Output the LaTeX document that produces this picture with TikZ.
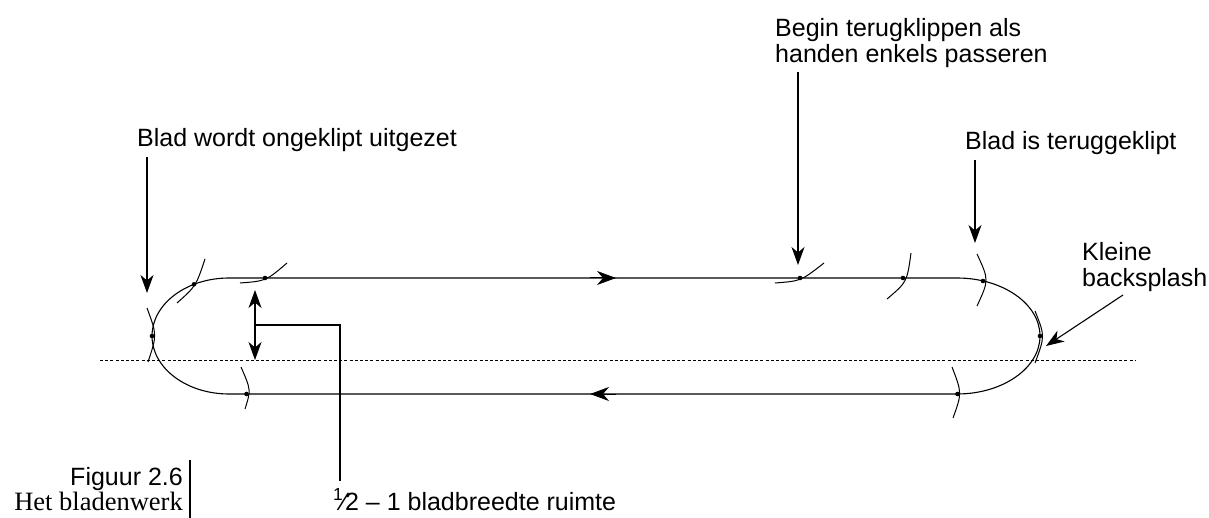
\documentclass[tikz,border=0pt]{standalone}
\usepackage{fontspec}
\setmainfont{Liberation Sans}
\newfontfamily\capserif{Liberation Serif}
\usetikzlibrary{arrows.meta,calc}
\begin{document}
\begin{tikzpicture}[x=1pt,y=-1pt,
  lbl/.style={inner sep=0pt, font=\fontsize{25}{26}\selectfont},
  arr/.style={line width=1.1pt, -{Stealth[length=18pt,width=13pt,inset=5.5pt]}},
  dbl/.style={line width=1.1pt, {Stealth[length=18pt,width=13pt,inset=5.5pt]}-{Stealth[length=18pt,width=13pt,inset=5.5pt]}},
  tip/.style={line width=1pt, -{Stealth[length=19pt,width=14pt,inset=6pt]}},
  track/.style={line width=1.1pt},
  blademark/.style={line width=1pt},
  ldr/.style={line width=1.1pt},
  bladedot/.style={fill, radius=2.3pt}
]
\useasboundingbox (0,0) rectangle (1209,518);

% dotted reference line
\draw[line width=0.9pt, dash pattern=on 3pt off 2.2pt] (100,360) -- (1135,360);

% the oval track
\draw[track] (229,278) -- (957,278)
  arc[start angle=-90,end angle=90,x radius=83,y radius=58] -- (229,394)
  arc[start angle=90,end angle=270,x radius=77,y radius=58] -- cycle;

% direction arrows on the track
\coordinate (d1a) at (590,278); \coordinate (d1b) at (616,278);
\coordinate (d2a) at (616,394); \coordinate (d2b) at (590,394);
\draw[tip] (d1a) -- (d1b);
\draw[tip] (d2a) -- (d2b);

% blade marks
\draw[blademark] (147,308) .. controls (157,335) .. (148,362);
\fill[bladedot] (152,336) circle;
\draw[blademark] (177,303) .. controls (196,286) .. (205,259);
\fill[bladedot] (194,284.3) circle;
\draw[blademark] (240,283) .. controls (266,281) .. (287,263);
\fill[bladedot] (265,278) circle;
\draw[blademark] (241,367) .. controls (251,390) .. (245,409);
\fill[bladedot] (246.5,394) circle;
\draw[blademark] (775,283) .. controls (801,281) .. (824,263);
\fill[bladedot] (800,278) circle;
\draw[blademark] (887,299) .. controls (907,282) .. (911,253);
\fill[bladedot] (903,278) circle;
\draw[blademark] (977,254) .. controls (989,280) .. (977,306);
\fill[bladedot] (983,281) circle;
\draw[blademark] (1035,311) .. controls (1045,336) .. (1035,363);
\fill[bladedot] (1040,336) circle;
\draw[blademark] (952,367) .. controls (962,393) .. (953,418);
\fill[bladedot] (957.5,394) circle;

% labels
\node[lbl, anchor=base west] (tA) at (137,147) {Blad wordt ongeklipt uitgezet};
\node[lbl, anchor=base west] (tB1) at (775,37) {Begin terugklippen als};
\node[lbl, anchor=base west] (tB2) at (775,63) {handen enkels passeren};
\node[lbl, anchor=base west] (tC) at (965,150) {Blad is teruggeklipt};
\node[lbl, anchor=base west] (tD1) at (1082,261) {Kleine};
\node[lbl, anchor=base west] (tD2) at (1082,287) {backsplash};
\node[lbl, anchor=base west] (tE) at (333,510)
  {\textsuperscript{1}\kern-0.06em\char"2044\kern-0.04em2 -- 1 bladbreedte ruimte};

% label arrows
\coordinate (aA) at (147,293);
\coordinate (aB) at (798,265);
\coordinate (aC) at (975,243);
\coordinate (aD) at (1046,346);
\draw[arr] ($(tA.south -| aA)+(0,5)$) -- (aA);
\draw[arr] ($(tB2.south -| aB)+(0,4)$) -- (aB);
\draw[arr] ($(tC.south -| aC)+(0,5)$) -- (aC);
\draw[arr] ($(tD2.base west)+(41,8)$) -- (aD);

% width indicator
\coordinate (wT) at (255,290);
\coordinate (wB) at (255,360);
\coordinate (wM) at (255,325);
\draw[dbl] (wT) -- (wB);
\draw[ldr] (wM) -| ($(tE.north west)+(7,-8)$);

% caption
\node[inner sep=0pt, anchor=base east, font=\fontsize{25}{26}\selectfont] (c1) at (183,485) {Figuur 2.6};
\node[inner sep=0pt, anchor=base east, font=\capserif\fontsize{26.5}{27}\selectfont] (c2) at (183,510) {Het bladenwerk};
\coordinate (b1) at (190,460);
\coordinate (b2) at (190,518);
\draw[line width=1.6pt] (b1) -- (b2);
\end{tikzpicture}
\end{document}
